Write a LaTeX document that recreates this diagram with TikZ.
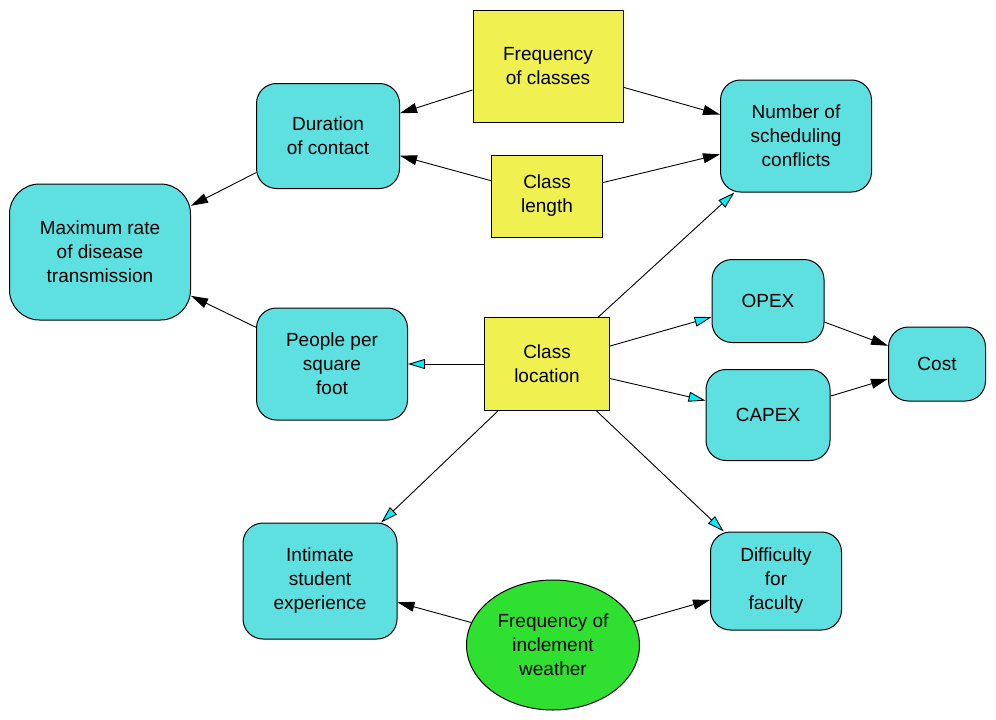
\documentclass[tikz,border=0pt]{standalone}
\usepackage{fontspec}
\setmainfont{Liberation Sans}
\usetikzlibrary{shapes,arrows.meta,positioning,calc}
\definecolor{varcyan}{RGB}{94,224,224}
\definecolor{tipcyan}{RGB}{0,240,255}
\definecolor{decyellow}{RGB}{240,240,80}
\definecolor{chgreen}{RGB}{48,224,48}
\tikzset{
var/.style = {draw, line width=1pt, fill=varcyan, rectangle, rounded corners=20pt, inner sep=0pt, align=center, font=\fontsize{19}{24}\selectfont},
dec/.style = {draw, line width=1pt, fill=decyellow, rectangle, inner sep=0pt, align=center, font=\fontsize{19}{24}\selectfont},
chance/.style = {draw, line width=1pt, fill=chgreen, ellipse, inner sep=0pt, align=center, font=\fontsize{19}{24}\selectfont},
dep/.style = {-{Triangle[length=17pt,width=10pt]}, line width=0.9pt},
locdep/.style = {-{Triangle[length=17pt,width=10pt,fill=tipcyan]}, line width=0.9pt}
}

\begin{document}
\begin{tikzpicture}[x=1pt, y=-1pt]
					\useasboundingbox (0,0) rectangle (996,720);
					\node[dec, minimum width=150pt, minimum height=112pt] (freq) at (548,66) {Frequency\\of classes};
					\node[var, minimum width=143pt, minimum height=105pt] (dur) at (328,136) {Duration\\of contact};
					\node[dec, minimum width=111pt, minimum height=82pt] (len) at (547,196) {Class\\length};
					\node[var, minimum width=151pt, minimum height=112pt] (conf) at (796,136) {Number of\\scheduling\\conflicts};
					\node[var, minimum width=181pt, minimum height=136pt, rounded corners=30pt] (maxr) at (100,252) {Maximum rate\\of disease\\transmission};
					\node[var, minimum width=151pt, minimum height=112pt] (ppl) at (332,364) {People per\\square\\foot};
					\node[dec, minimum width=125pt, minimum height=93pt] (loc) at (547,364) {Class\\location};
					\node[var, minimum width=112pt, minimum height=83pt] (opex) at (768,301) {OPEX};
					\node[var, minimum width=124pt, minimum height=91pt] (capex) at (768,415) {CAPEX};
					\node[var, minimum width=97pt, minimum height=74pt] (cost) at (937,364) {Cost};
					\node[var, minimum width=154pt, minimum height=116pt] (intim) at (320,581) {Intimate\\student\\experience};
					\node[var, minimum width=131pt, minimum height=98pt] (diff) at (776,581) {Difficulty\\for\\faculty};
					\node[chance, minimum width=173pt, minimum height=130pt] (wthr) at (553,645) {Frequency of\\inclement\\weather};
					\draw[dep] (freq) -- (dur);
					\draw[dep] (freq) -- (conf);
					\draw[dep] (len) -- (dur);
					\draw[dep] (len) -- (conf);
					\draw[dep] (dur) -- (maxr);
					\draw[dep] (ppl) -- (maxr);
					\draw[locdep] (loc) -- (ppl);
					\draw[locdep] (loc) -- (conf);
					\draw[locdep] (loc) -- (opex);
					\draw[locdep] (loc) -- (capex);
					\draw[locdep] (loc) -- (intim);
					\draw[locdep] (loc) -- (diff);
					\draw[dep] (opex) -- (cost);
					\draw[dep] (capex) -- (cost);
					\draw[dep] (wthr) -- (intim);
					\draw[dep] (wthr) -- (diff);
				\end{tikzpicture}
\end{document}
